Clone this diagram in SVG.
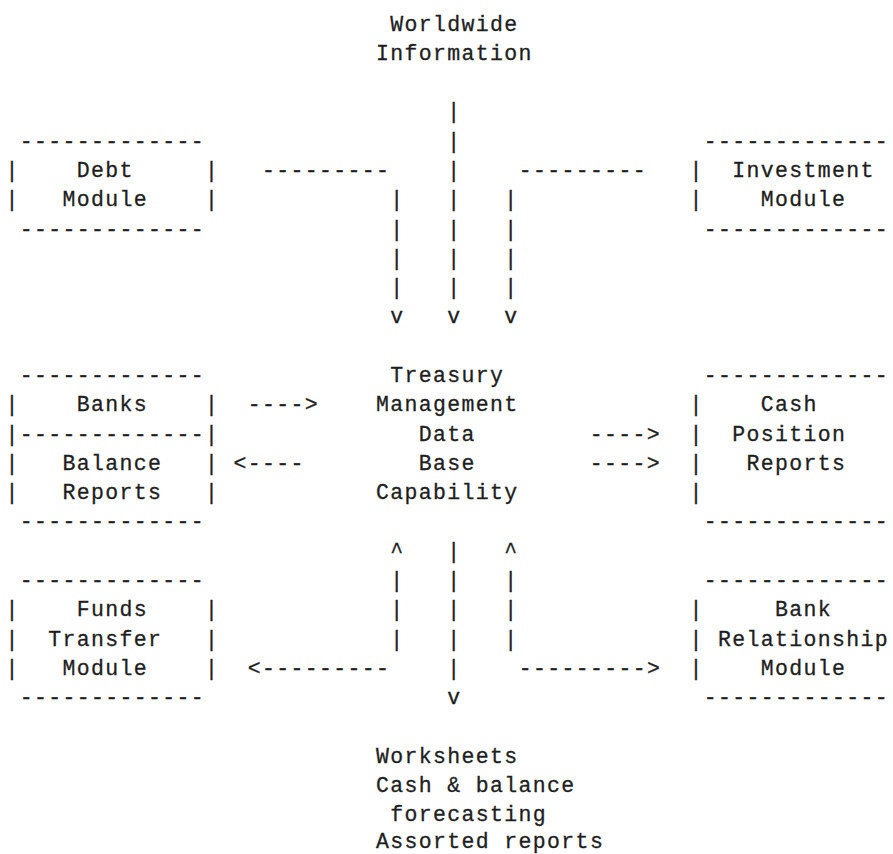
<svg xmlns="http://www.w3.org/2000/svg" width="893" height="854" viewBox="0 0 893 854" xml:space="preserve">
<style>
text{font-family:"Liberation Mono","Courier New",monospace;font-size:21.5px;letter-spacing:1.35px;fill:#1e1e1e;stroke:#1e1e1e;stroke-width:0.3px;white-space:pre}
</style>
<rect width="893" height="854" fill="#ffffff"/>
<g id="worldwide-information">
<text x="390.35" y="30.5">Worldwide</text>
<text x="376.1" y="59.79">Information</text>
</g>
<g id="debt-module">
<text x="19.85" y="147.66">-------------</text>
<text x="5.6" y="176.95">|    Debt     |</text>
<text x="5.6" y="206.24">|   Module    |</text>
<text x="19.85" y="235.53">-------------</text>
</g>
<g id="investment-module">
<text x="703.85" y="147.66">-------------</text>
<text x="689.6" y="176.95">|  Investment</text>
<text x="689.6" y="206.24">|    Module</text>
<text x="703.85" y="235.53">-------------</text>
</g>
<g id="banks-balance-reports">
<text x="19.85" y="381.98">-------------</text>
<text x="5.6" y="411.27">|    Banks    |</text>
<text x="5.6" y="440.56">|-------------|</text>
<text x="5.6" y="469.85">|   Balance   |</text>
<text x="5.6" y="499.14">|   Reports   |</text>
<text x="19.85" y="528.43">-------------</text>
</g>
<g id="treasury-database">
<text x="390.35" y="381.98">Treasury</text>
<text x="376.1" y="411.27">Management</text>
<text x="418.85" y="440.56">Data</text>
<text x="418.85" y="469.85">Base</text>
<text x="376.1" y="499.14">Capability</text>
</g>
<g id="cash-position-reports">
<text x="703.85" y="381.98">-------------</text>
<text x="689.6" y="411.27">|    Cash</text>
<text x="689.6" y="440.56">|  Position</text>
<text x="689.6" y="469.85">|   Reports</text>
<text x="689.6" y="499.14">|</text>
<text x="703.85" y="528.43">-------------</text>
</g>
<g id="funds-transfer-module">
<text x="19.85" y="587.01">-------------</text>
<text x="5.6" y="616.3">|    Funds    |</text>
<text x="5.6" y="645.59">|  Transfer   |</text>
<text x="5.6" y="674.88">|   Module    |</text>
<text x="19.85" y="704.17">-------------</text>
</g>
<g id="bank-relationship-module">
<text x="703.85" y="587.01">-------------</text>
<text x="689.6" y="616.3">|     Bank</text>
<text x="689.6" y="645.59">| Relationship</text>
<text x="689.6" y="674.88">|    Module</text>
<text x="703.85" y="704.17">-------------</text>
</g>
<g id="outputs">
<text x="376.1" y="762.75">Worksheets</text>
<text x="376.1" y="792.04">Cash &amp; balance</text>
<text x="390.35" y="821.33">forecasting</text>
<text x="376.1" y="848.4">Assorted reports</text>
</g>
<g id="connectors">
<text x="447.35" y="118.37">|</text>
<text x="447.35" y="147.66">|</text>
<text x="262.1" y="176.95">---------    |    ---------</text>
<text x="390.35" y="206.24">|   |   |</text>
<text x="390.35" y="235.53">|   |   |</text>
<text x="390.35" y="264.82">|   |   |</text>
<text x="390.35" y="294.11">|   |   |</text>
<text x="390.35" y="323.4">v   v   v</text>
<text x="247.85" y="411.27">----&gt;</text>
<text x="233.6" y="469.85">&lt;----</text>
<text x="589.85" y="440.56">----&gt;</text>
<text x="589.85" y="469.85">----&gt;</text>
<text x="390.35" y="557.72">^   |   ^</text>
<text x="390.35" y="587.01">|   |   |</text>
<text x="390.35" y="616.3">|   |   |</text>
<text x="390.35" y="645.59">|   |   |</text>
<text x="247.85" y="674.88">&lt;---------    |    ---------&gt;</text>
<text x="447.35" y="704.17">v</text>
</g>
</svg>
